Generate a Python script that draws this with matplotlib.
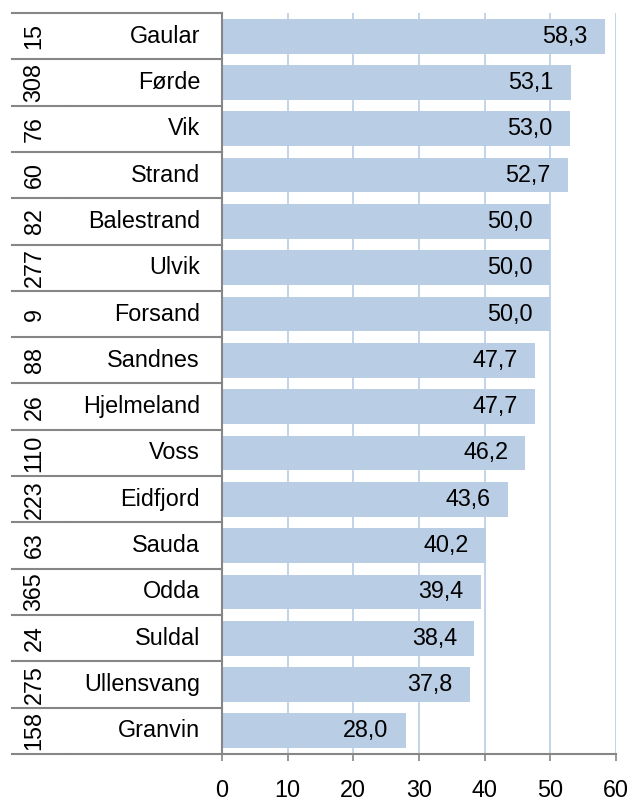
import numpy as np
import matplotlib.pyplot as plt

plt.rcParams['font.family'] = ['Liberation Sans', 'DejaVu Sans']

names = ["Gaular", "Førde", "Vik", "Strand", "Balestrand", "Ulvik", "Forsand",
         "Sandnes", "Hjelmeland", "Voss", "Eidfjord", "Sauda", "Odda",
         "Suldal", "Ullensvang", "Granvin"]
codes = ["15", "308", "76", "60", "82", "277", "9", "88", "26", "110", "223",
         "63", "365", "24", "275", "158"]
values = [58.3, 53.1, 53.0, 52.7, 50.0, 50.0, 50.0, 47.7, 47.7, 46.2, 43.6,
          40.2, 39.4, 38.4, 37.8, 28.0]
xticks = [0, 10, 20, 30, 40, 50, 60]

W, H = 632, 801
fig = plt.figure(figsize=(W / 100, H / 100), dpi=100)
ax = fig.add_axes([222 / W, 1 - 754 / H, (616 - 222) / W, (754 - 13) / H])

bar_col = "#b9cde5"
grey = "#868686"
fs = 16.8

y = np.arange(len(names))
ax.barh(y, values, height=0.75, color=bar_col, zorder=2)
ax.set_ylim(len(names) - 0.5, -0.5)
ax.set_xlim(0, 60)
ax.set_xticks(xticks)
ax.set_xticklabels([str(t) for t in xticks], fontsize=fs)
ax.set_yticks([])
ax.grid(axis="x", color=bar_col, linewidth=1.2, zorder=0)
for s in ["top", "right"]:
    ax.spines[s].set_visible(False)
for s in ["left", "bottom"]:
    ax.spines[s].set_color(grey)
    ax.spines[s].set_linewidth(1.5)
ax.tick_params(axis="x", color=grey, length=5, width=1.2, pad=13)

# verdier inne i stolpene
for yi, v in zip(y, values):
    ax.annotate(f"{v:.1f}".replace(".", ","), (v, yi), xytext=(-12.5, 0),
                textcoords="offset points", ha="right", va="center",
                fontsize=fs, zorder=3)

tr = ax.get_yaxis_transform()
x_left = (12 - 222) / 394
x_mid = (70 - 222) / 394
for k in range(len(names) + 1):
    yy = k - 0.5
    ax.plot([x_left, x_mid - 0.003], [yy, yy], color=grey, lw=1.5,
            transform=tr, clip_on=False)
    ax.plot([x_mid + 0.003, 0], [yy, yy], color=grey, lw=1.5,
            transform=tr, clip_on=False)

for yi, n, c in zip(y, names, codes):
    ax.text((200 - 222) / 394, yi, n, ha="right", va="center", fontsize=fs,
            transform=tr)
    ax.text((34 - 222) / 394, yi, c, ha="center", va="center", rotation=90,
            fontsize=fs, transform=tr)

fig.savefig("out.png", dpi=100)
